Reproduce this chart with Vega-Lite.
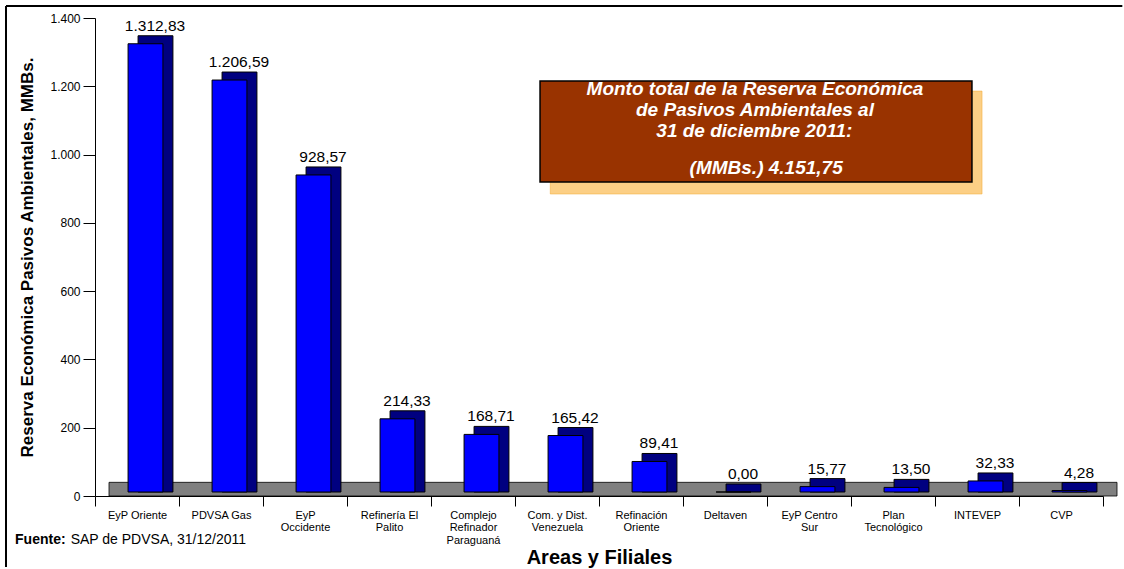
{
  "$schema": "https://vega.github.io/schema/vega-lite/v6.json",
  "width": 1008,
  "height": 478,
  "autosize": {"type": "pad"},
  "padding": {"left": 5, "top": 5, "right": 0, "bottom": 0},
  "config": {
    "locale": {"number": {"decimal": ",", "thousands": ".", "grouping": [3], "currency": ["", ""]}},
    "view": {"stroke": null},
    "font": "Liberation Sans",
    "axis": {"labelFont": "Liberation Sans", "titleFont": "Liberation Sans", "labelColor": "black", "titleColor": "black", "tickColor": "black", "domainColor": "black", "grid": false}
  },
  "datasets": {
    "main": [
      {"cat": "EyP Oriente", "value": 1312.83},
      {"cat": "PDVSA Gas", "value": 1206.59},
      {"cat": "EyP Occidente", "value": 928.57},
      {"cat": "Refinería El Palito", "value": 214.33},
      {"cat": "Complejo Refinador Paraguaná", "value": 168.71},
      {"cat": "Com. y Dist. Venezuela", "value": 165.42},
      {"cat": "Refinación Oriente", "value": 89.41},
      {"cat": "Deltaven", "value": 0.0},
      {"cat": "EyP Centro Sur", "value": 15.77},
      {"cat": "Plan Tecnológico", "value": 13.5},
      {"cat": "INTEVEP", "value": 32.33},
      {"cat": "CVP", "value": 4.28}
    ],
    "one": [{"note": "annotation"}]
  },
  "resolve": {"scale": {"x": "independent"}},
  "layer": [
    {
      "data": {"name": "one"},
      "mark": {"type": "rect", "fill": "#808080", "stroke": "black", "strokeWidth": 0.8},
      "encoding": {
        "x": {"datum": 0.1667, "type": "quantitative", "scale": {"domain": [0, 12]}, "axis": null},
        "x2": {"datum": 12.1667},
        "y": {"datum": 0, "type": "quantitative", "scale": {"domain": [0, 1400], "nice": false}},
        "y2": {"datum": 40}
      }
    },
    {
      "data": {"name": "main"},
      "mark": {"type": "bar", "fill": "#000080", "stroke": "black", "strokeWidth": 1, "width": {"band": 0.415}, "xOffset": 18.5, "yOffset": -12, "y2Offset": -4},
      "encoding": {
        "x": {"field": "cat", "type": "nominal", "sort": null, "scale": {"paddingInner": 0, "paddingOuter": 0}, "axis": null},
        "y": {"field": "value", "type": "quantitative", "scale": {"domain": [0, 1400], "nice": false}},
        "y2": {"datum": 0}
      }
    },
    {
      "data": {"name": "main"},
      "mark": {"type": "bar", "fill": "#0000FF", "stroke": "black", "strokeWidth": 1, "width": {"band": 0.415}, "xOffset": 8.5, "yOffset": -4, "y2Offset": -4},
      "encoding": {
        "x": {
          "field": "cat", "type": "nominal", "sort": null,
          "scale": {"paddingInner": 0, "paddingOuter": 0},
          "axis": {
            "title": "Areas y Filiales",
            "titleFontSize": 20,
            "titleFontWeight": "bold",
            "titlePadding": 2,
            "labelAngle": 0,
            "labelFontSize": 11,
            "labelPadding": 3,
            "labelBaseline": "top",
            "labelLineHeight": 12.5,
            "tickBand": "extent",
            "tickSize": 10,
            "labelExpr": "datum.value == 'EyP Occidente' ? ['EyP', 'Occidente'] : datum.value == 'Refinería El Palito' ? ['Refinería El', 'Palito'] : datum.value == 'Complejo Refinador Paraguaná' ? ['Complejo', 'Refinador', 'Paraguaná'] : datum.value == 'Com. y Dist. Venezuela' ? ['Com. y Dist.', 'Venezuela'] : datum.value == 'Refinación Oriente' ? ['Refinación', 'Oriente'] : datum.value == 'EyP Centro Sur' ? ['EyP Centro', 'Sur'] : datum.value == 'Plan Tecnológico' ? ['Plan', 'Tecnológico'] : datum.value"
          }
        },
        "y": {
          "field": "value", "type": "quantitative",
          "scale": {"domain": [0, 1400], "nice": false},
          "axis": {
            "values": [0, 200, 400, 600, 800, 1000, 1200, 1400],
            "format": ",d",
            "title": "Reserva Económica Pasivos Ambientales, MMBs.",
            "titleFontSize": 17,
            "titleFontWeight": "bold",
            "titlePadding": 13,
            "labelFontSize": 12,
            "labelPadding": 3,
            "tickSize": 12
          }
        },
        "y2": {"datum": 0}
      }
    },
    {
      "data": {"name": "main"},
      "mark": {"type": "text", "fontSize": 15.5, "dx": 18, "dy": -22, "color": "black"},
      "encoding": {
        "x": {"field": "cat", "type": "nominal", "sort": null, "scale": {"paddingInner": 0, "paddingOuter": 0}, "axis": null},
        "y": {"field": "value", "type": "quantitative", "scale": {"domain": [0, 1400], "nice": false}},
        "text": {"field": "value", "type": "quantitative", "format": ",.2f"}
      }
    },
    {
      "data": {"name": "one"},
      "mark": {"type": "rect", "fill": "#FCCF85", "stroke": "#F0A830", "strokeWidth": 0.5},
      "encoding": {
        "x": {"datum": 5.42, "type": "quantitative", "scale": {"domain": [0, 12]}, "axis": null},
        "x2": {"datum": 10.56},
        "y": {"datum": 1186, "type": "quantitative", "scale": {"domain": [0, 1400], "nice": false}},
        "y2": {"datum": 884.5}
      }
    },
    {
      "data": {"name": "one"},
      "mark": {"type": "rect", "fill": "#993300", "stroke": "black", "strokeWidth": 1.5},
      "encoding": {
        "x": {"datum": 5.298, "type": "quantitative", "scale": {"domain": [0, 12]}, "axis": null},
        "x2": {"datum": 10.44},
        "y": {"datum": 1215.5, "type": "quantitative", "scale": {"domain": [0, 1400], "nice": false}},
        "y2": {"datum": 919.7}
      }
    },
    {
      "data": {"name": "one"},
      "mark": {"type": "text", "fontSize": 19, "fontWeight": "bold", "fontStyle": "italic", "color": "white", "align": "center", "baseline": "middle"},
      "encoding": {
        "x": {"datum": 7.857, "type": "quantitative", "scale": {"domain": [0, 12]}, "axis": null},
        "y": {"datum": 1192, "type": "quantitative", "scale": {"domain": [0, 1400], "nice": false}},
        "text": {"value": "Monto total de la Reserva Económica"}
      }
    },
    {
      "data": {"name": "one"},
      "mark": {"type": "text", "fontSize": 19, "fontWeight": "bold", "fontStyle": "italic", "color": "white", "align": "center", "baseline": "middle"},
      "encoding": {
        "x": {"datum": 7.857, "type": "quantitative", "scale": {"domain": [0, 12]}, "axis": null},
        "y": {"datum": 1130.5, "type": "quantitative", "scale": {"domain": [0, 1400], "nice": false}},
        "text": {"value": "de Pasivos Ambientales al"}
      }
    },
    {
      "data": {"name": "one"},
      "mark": {"type": "text", "fontSize": 19, "fontWeight": "bold", "fontStyle": "italic", "color": "white", "align": "center", "baseline": "middle"},
      "encoding": {
        "x": {"datum": 7.85, "type": "quantitative", "scale": {"domain": [0, 12]}, "axis": null},
        "y": {"datum": 1069, "type": "quantitative", "scale": {"domain": [0, 1400], "nice": false}},
        "text": {"value": "31 de diciembre 2011:"}
      }
    },
    {
      "data": {"name": "one"},
      "mark": {"type": "text", "fontSize": 19, "fontWeight": "bold", "fontStyle": "italic", "color": "white", "align": "center", "baseline": "middle"},
      "encoding": {
        "x": {"datum": 7.99, "type": "quantitative", "scale": {"domain": [0, 12]}, "axis": null},
        "y": {"datum": 962, "type": "quantitative", "scale": {"domain": [0, 1400], "nice": false}},
        "text": {"value": "(MMBs.) 4.151,75"}
      }
    },
    {
      "data": {"name": "one"},
      "mark": {"type": "text", "fontSize": 14, "fontWeight": "bold", "color": "black", "align": "left", "baseline": "middle"},
      "encoding": {
        "x": {"datum": -0.952, "type": "quantitative", "scale": {"domain": [0, 12]}, "axis": null},
        "y": {"datum": -129, "type": "quantitative", "scale": {"domain": [0, 1400], "nice": false}},
        "text": {"value": "Fuente:"}
      }
    },
    {
      "data": {"name": "one"},
      "mark": {"type": "text", "fontSize": 14, "fontWeight": "normal", "color": "black", "align": "left", "baseline": "middle"},
      "encoding": {
        "x": {"datum": -0.29, "type": "quantitative", "scale": {"domain": [0, 12]}, "axis": null},
        "y": {"datum": -129, "type": "quantitative", "scale": {"domain": [0, 1400], "nice": false}},
        "text": {"value": "SAP de PDVSA, 31/12/2011"}
      }
    },
    {
      "data": {"name": "one"},
      "mark": {"type": "rule", "stroke": "black", "strokeWidth": 2},
      "encoding": {
        "x": {"datum": -1.0595, "type": "quantitative", "scale": {"domain": [0, 12]}, "axis": null},
        "x2": {"datum": 12.23},
        "y": {"datum": 1435, "type": "quantitative", "scale": {"domain": [0, 1400], "nice": false}}
      }
    },
    {
      "data": {"name": "one"},
      "mark": {"type": "rule", "stroke": "black", "strokeWidth": 2},
      "encoding": {
        "x": {"datum": -1.0595, "type": "quantitative", "scale": {"domain": [0, 12]}, "axis": null},
        "y": {"datum": 1435, "type": "quantitative", "scale": {"domain": [0, 1400], "nice": false}},
        "y2": {"datum": -208}
      }
    }
  ]
}
